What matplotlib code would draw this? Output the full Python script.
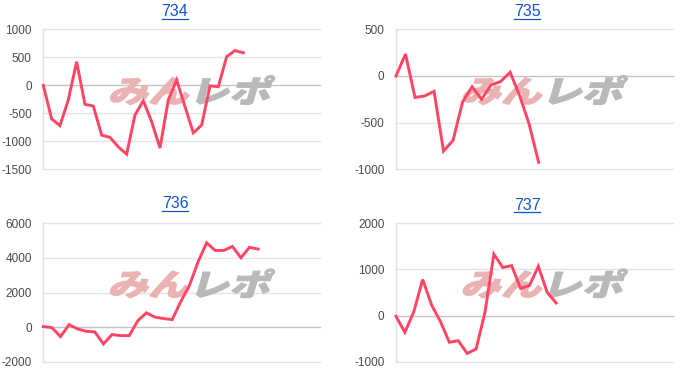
import matplotlib
matplotlib.use('Agg')
import matplotlib.pyplot as plt
import numpy as np
from matplotlib.textpath import TextPath
from matplotlib.font_manager import FontProperties
from matplotlib.patches import PathPatch
from matplotlib.transforms import Affine2D
from matplotlib.lines import Line2D

# 台番号ごとの差枚推移
titles = ['734', '735', '736', '737']

diff_734 = [0, -600, -720, -260, 420, -340, -370, -890, -930, -1100, -1230,
            -530, -275, -650, -1120, -260, 95, -380, -850, -710, -10, -25,
            510, 620, 580]
diff_735 = [0, 235, -230, -215, -165, -805, -690, -280, -115, -250, -95,
            -60, 40, -210, -515, -925]
diff_736 = [40, -20, -540, 150, -100, -230, -270, -960, -420, -480, -480,
            380, 830, 580, 500, 440, 1480, 2400, 3750, 4860, 4420, 4420,
            4650, 4000, 4600, 4500]
diff_737 = [-15, -360, 85, 780, 230, -130, -575, -540, -815, -720, 70,
            1330, 1040, 1080, 590, 650, 1065, 500, 275]

series = [diff_734, diff_735, diff_736, diff_737]

yticks_list = [
    [-1500, -1000, -500, 0, 500, 1000],
    [-1000, -500, 0, 500],
    [-2000, 0, 2000, 4000, 6000],
    [-1000, 0, 1000, 2000],
]

# x軸の幅 (点の間隔から読んだ値)
x_max = [33.2, 29.1, 32.2, 31.1]

W, H = 700, 386
# 各グラフの描画領域 (left, top, right, bottom) ピクセル
rects = [
    (43.3, 29.3, 320, 169.3),
    (396, 29.3, 672.7, 169.3),
    (43.3, 223, 320, 362),
    (396, 223, 672.7, 362),
]
title_pos = [(175, 12), (527, 12), (175, 204), (527, 205)]

line_color = '#ff4564'
plt.rcParams['font.family'] = ['Liberation Sans', 'DejaVu Sans']
plt.rcParams['axes.unicode_minus'] = False

fig = plt.figure(figsize=(W / 100, H / 100), dpi=100)

wm_font = FontProperties(family='Noto Sans CJK JP', weight='black')


def add_watermark(ax, w_px, h_px):
    # みんレポのロゴ風の透かし
    p1 = TextPath((0, 0), 'みん', size=1, prop=wm_font)
    p2 = TextPath((2, 0), 'レポ', size=1, prop=wm_font)
    e1 = p1.get_extents()
    e2 = p2.get_extents()
    xmin, xmax = min(e1.x0, e2.x0), max(e1.x1, e2.x1)
    ymin, ymax = min(e1.y0, e2.y0), max(e1.y1, e2.y1)
    slant = np.radians(16)
    box_h = 0.21 * h_px
    box_w = 0.605 * w_px - np.tan(slant) * box_h
    tr = (Affine2D().translate(-xmin, -ymin)
          .scale(box_w / (xmax - xmin), box_h / (ymax - ymin))
          .skew(slant, 0)
          .scale(1 / w_px, 1 / h_px)
          .translate(0.235, 0.46))
    for p, c in [(p1, '#e9b3b3'), (p2, '#b9b9b9')]:
        patch = PathPatch(p, transform=tr + ax.transAxes, facecolor=c,
                          edgecolor=c, lw=0.8, zorder=1)
        ax.add_patch(patch)


title_texts = []
for i in range(4):
    l, t, r, b = rects[i]
    ax = fig.add_axes([l / W, 1 - b / H, (r - l) / W, (b - t) / H])
    yt = yticks_list[i]
    y = series[i]
    x = np.arange(len(y))

    ax.set_xlim(0, x_max[i])
    ax.set_ylim(yt[0], yt[-1])
    ax.set_yticks(yt)
    ax.set_xticks([])
    for v in yt:
        col = '#c4c4c4' if v == 0 else '#e4e4e4'
        ax.axhline(v, color=col, lw=1.0, zorder=0, clip_on=False)
    for s in ['top', 'right', 'bottom']:
        ax.spines[s].set_visible(False)
    ax.spines['left'].set_color('#e0e0e0')
    ax.spines['left'].set_linewidth(1.0)
    ax.tick_params(axis='y', length=0, pad=8.3, labelsize=8.5, labelcolor='#4a4a4a')

    add_watermark(ax, r - l, b - t)
    ax.plot(x, y, color=line_color, lw=2.1, zorder=3, solid_joinstyle='miter',
            clip_on=False)

    tx, ty = title_pos[i]
    txt = fig.text(tx / W, 1 - ty / H, titles[i], ha='center', va='center',
                   fontsize=11.5, color='#1155cc')
    title_texts.append(txt)

# タイトルの下線
fig.canvas.draw()
renderer = fig.canvas.get_renderer()
for txt in title_texts:
    bb = txt.get_window_extent(renderer)
    yline = bb.y0 + 0.5
    fig.add_artist(Line2D([bb.x0 / W, bb.x1 / W], [yline / H, yline / H],
                          color='#1155cc', lw=0.9, transform=fig.transFigure))

fig.savefig('out.png', dpi=100)
